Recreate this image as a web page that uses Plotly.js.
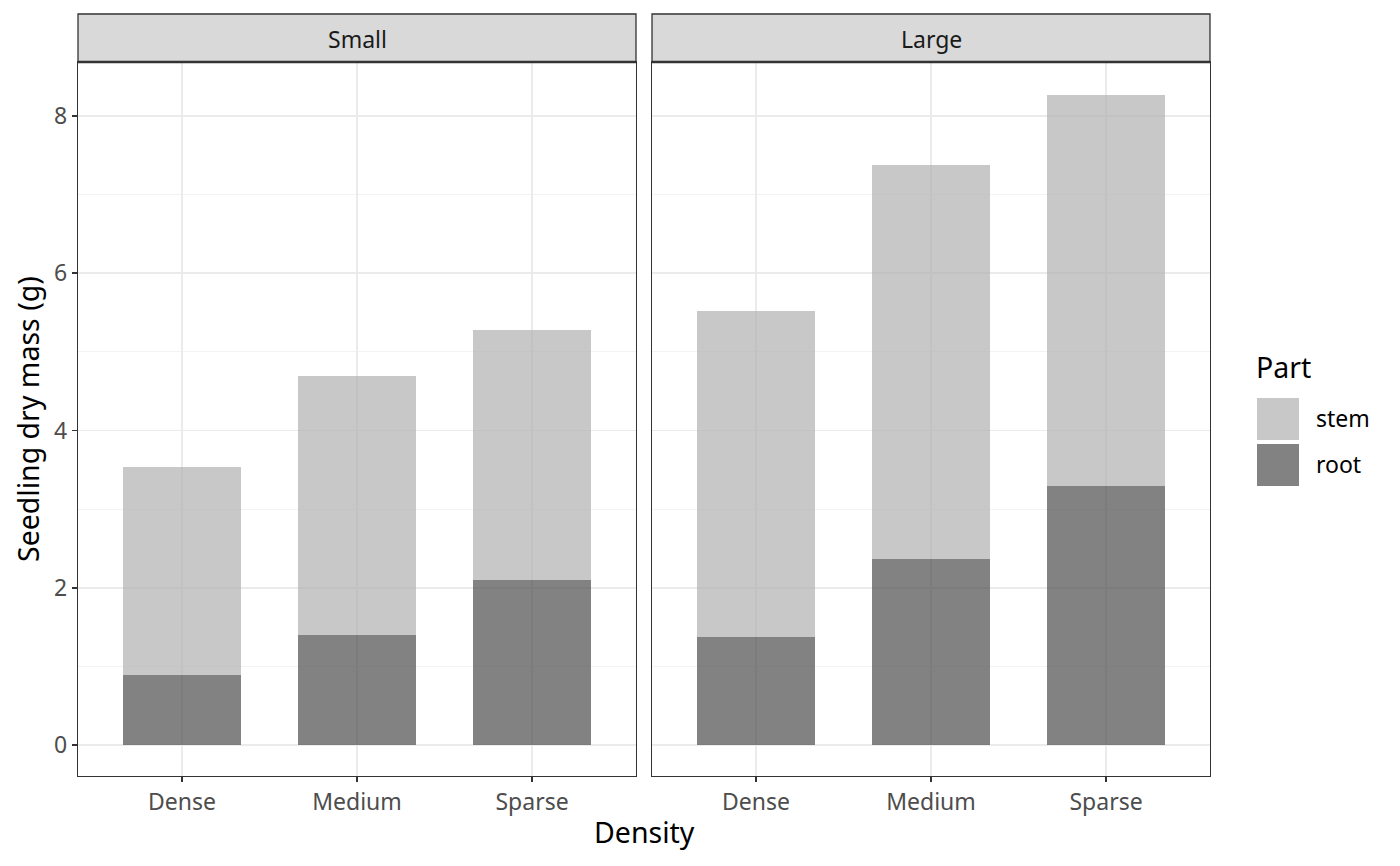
<!DOCTYPE html>
<html>
<head>
<meta charset="utf-8">
<script src="https://cdn.plot.ly/plotly-3.0.1.min.js"></script>
<style>
  html, body { margin: 0; padding: 0; background: #fff; }
  #chart { width: 1400px; height: 866px; }
</style>
</head>
<body>
<div id="chart"></div>
<script>
// data
const densities = ['Dense', 'Medium', 'Sparse'];
const rootSmall = [0.89, 1.40, 2.10];
const stemSmall = [2.65, 3.29, 3.18];
const rootLarge = [1.37, 2.37, 3.30];
const stemLarge = [4.15, 5.01, 4.97];
const panels = ['Small', 'Large'];
const parts = ['stem', 'root'];
const yTicks = [0, 2, 4, 6, 8];

const rootColor = 'rgba(77,77,77,0.7)';
const stemColor = 'rgba(176,176,176,0.7)';
const font = '"Noto Sans", "DejaVu Sans", sans-serif';
const small = 23, big = 28.5;

function bar(y, color, xa, ya) {
  return {
    type: 'bar', x: densities, y: y, xaxis: xa, yaxis: ya,
    width: 0.67, marker: { color: color, line: { width: 0 } },
    showlegend: false, hoverinfo: 'skip'
  };
}

const traces = [
  bar(rootSmall, rootColor, 'x', 'y'),
  bar(stemSmall, stemColor, 'x', 'y'),
  bar(rootLarge, rootColor, 'x2', 'y2'),
  bar(stemLarge, stemColor, 'x2', 'y2'),
];

const W = 1400, H = 866;
const px = v => v / W;
const py = v => 1 - v / H;
const dom1 = [px(78), px(636)];
const dom2 = [px(652), px(1210)];
const yDom = [py(776), py(62)];

const xBase = {
  type: 'category', range: [-0.594, 2.594],
  showgrid: true, gridcolor: '#ebebeb', gridwidth: 1.8,
  showline: true, mirror: true, linecolor: '#333333', linewidth: 1.3,
  ticks: 'outside', ticklen: 5, tickwidth: 1.8, tickcolor: '#333333',
  tickfont: { family: font, size: small, color: '#4d4d4d' },
  zeroline: false, fixedrange: true
};
const yBase = {
  range: [-0.394, 8.687], domain: yDom, tickvals: yTicks,
  showgrid: true, gridcolor: '#ebebeb', gridwidth: 1.8,
  minor: { dtick: 1, tick0: 1, showgrid: true, gridcolor: '#f3f3f3', gridwidth: 1, ticks: '' },
  showline: true, mirror: true, linecolor: '#333333', linewidth: 1.3,
  zeroline: false, fixedrange: true
};

const shapes = [];
const annotations = [];
[dom1, dom2].forEach((d, i) => {
  shapes.push({
    type: 'rect', xref: 'paper', yref: 'paper',
    x0: d[0], x1: d[1], y0: py(62), y1: py(14),
    fillcolor: '#d9d9d9', line: { color: '#333333', width: 1.3 }, layer: 'above'
  });
  shapes.push({
    type: 'line', xref: 'paper', yref: 'paper',
    x0: d[0], x1: d[1], y0: py(62), y1: py(62),
    line: { color: '#333333', width: 2.5 }, layer: 'above'
  });
  annotations.push({
    xref: 'paper', yref: 'paper', x: (d[0] + d[1]) / 2, y: py(39),
    text: panels[i], showarrow: false, xanchor: 'center', yanchor: 'middle',
    font: { family: font, size: small, color: '#1a1a1a' }
  });
});

// legend drawn by hand to match the large ggplot keys
annotations.push({
  xref: 'paper', yref: 'paper', x: px(1254), y: py(367), text: 'Part',
  showarrow: false, xanchor: 'left', yanchor: 'middle',
  font: { family: font, size: big, color: '#000000' }
});
const keyColors = [stemColor, rootColor];
parts.forEach((p, i) => {
  const top = 398 + i * 46;
  shapes.push({
    type: 'rect', xref: 'paper', yref: 'paper',
    x0: px(1257), x1: px(1299), y0: py(top + 42), y1: py(top),
    fillcolor: keyColors[i], line: { width: 0 }
  });
  annotations.push({
    xref: 'paper', yref: 'paper', x: px(1314), y: py(top + 20), text: p,
    showarrow: false, xanchor: 'left', yanchor: 'middle',
    font: { family: font, size: small, color: '#000000' }
  });
});

// axis titles
annotations.push({
  xref: 'paper', yref: 'paper', x: px(644), y: py(832), text: 'Density',
  showarrow: false, xanchor: 'center', yanchor: 'middle',
  font: { family: font, size: big, color: '#000000' }
});
annotations.push({
  xref: 'paper', yref: 'paper', x: px(28), y: py(419), text: 'Seedling dry mass (g)',
  showarrow: false, xanchor: 'center', yanchor: 'middle', textangle: -90,
  font: { family: font, size: big, color: '#000000' }
});

const layout = {
  width: W, height: H,
  margin: { l: 0, r: 0, t: 0, b: 0 },
  paper_bgcolor: '#ffffff', plot_bgcolor: '#ffffff',
  barmode: 'stack',
  showlegend: false,
  font: { family: font },
  xaxis: Object.assign({}, xBase, { domain: dom1, anchor: 'y' }),
  xaxis2: Object.assign({}, xBase, { domain: dom2, anchor: 'y2' }),
  yaxis: Object.assign({}, yBase, {
    anchor: 'x',
    ticks: 'outside', ticklen: 5, tickwidth: 1.8, tickcolor: '#333333',
    tickfont: { family: font, size: small, color: '#4d4d4d' }
  }),
  yaxis2: Object.assign({}, yBase, { anchor: 'x2', showticklabels: false, ticks: '' }),
  shapes: shapes,
  annotations: annotations
};

Plotly.newPlot('chart', traces, layout, { displayModeBar: false, staticPlot: true });
</script>
</body>
</html>
